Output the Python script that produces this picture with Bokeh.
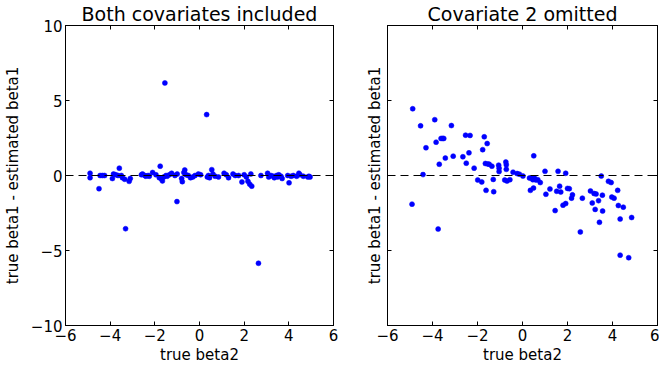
from bokeh.plotting import figure
from bokeh.layouts import row
from bokeh.models import LinearAxis, FixedTicker, Span
from bokeh.embed import file_html
from bokeh.resources import INLINE

# ---- data ----
left_x = [-4.9, -4.9, -4.5, -4.45, -4.35, -4.25, -3.9, -3.85, -3.75, -3.65, -3.59, -3.5, -3.45, -3.35,
          -3.31, -3.15, -3.1, -2.6, -2.55, -2.45, -2.4, -2.3, -2.25, -2.1, -1.95, -1.8, -1.76, -1.7,
          -1.66, -1.6, -1.55, -1.5, -1.45, -1.35, -1.25, -1.1, -1.01, -1.0, -0.8, -0.77, -0.7, -0.66,
          -0.6, -0.5, -0.4, -0.3, -0.2, -0.05, 0.05, 0.32, 0.35, 0.4, 0.45, 0.55, 0.6, 0.7, 0.85,
          1.1, 1.2, 1.3, 1.5, 1.6, 1.75, 1.9, 2.0, 2.1, 2.17, 2.25, 2.34, 2.3, 2.64, 2.75, 3.05,
          3.1, 3.2, 3.3, 3.35, 3.45, 3.5, 3.55, 3.65, 3.7, 3.95, 4.01, 4.1, 4.2, 4.35, 4.45, 4.5,
          4.65, 4.85, 4.9, 4.95]
left_y = [0.15, -0.15, -0.88, 0.0, 0.0, 0.0, -0.2, 0.1, 0.05, 0.0, 0.49, 0.0, -0.15, -0.25,
          -3.55, -0.39, -0.2, 0.05, 0.1, 0.0, -0.05, 0.0, -0.05, 0.2, 0.05, -0.15, 0.62, -0.25,
          -0.37, -0.1, 6.17, 0.0, -0.05, 0.05, 0.15, 0.0, -1.74, 0.1, -0.2, -0.41, 0.2, 0.37,
          0.05, 0.0, -0.15, -0.1, 0.0, 0.1, 0.05, 4.06, -0.1, 0.0, -0.15, 0.39, 0.1, -0.05, -0.1,
          0.15, 0.05, -0.15, 0.1, 0.0, 0.0, -0.43, 0.05, -0.1, -0.39, -0.58, -0.71, 0.1, -5.85, 0.0, 0.15,
          -0.1, 0.0, -0.05, -0.15, 0.0, -0.1, 0.05, -0.05, -0.2, 0.0, -0.49, -0.05, 0.0, -0.05, 0.15, 0.05,
          -0.05, -0.1, -0.05, -0.1]

right_x = [-4.88, -4.53, -3.9, -3.16, -4.29, -3.84, -3.62, -3.55, -3.5, -3.7, -3.43, -3.08, -4.42,
           -4.91, -3.75, -2.53, -2.33, -2.65, -2.5, -2.38, -2.15, -1.77, -1.7, -1.57, -1.65, -1.54,
           -1.48, -1.36, -1.06, -1.04, -1.04, -0.74, -0.72, -0.72, -1.99, -1.81, -1.3, -1.62, -1.28,
           -0.79, -0.69, -0.56, -0.42, -0.24, -0.14, 0.02, 0.31, 0.39, 0.46, 0.53, 0.6, 0.68, 0.79,
           0.35, 0.49, 0.5, 1.0, 1.04, 1.22, 1.45, 1.52, 1.7, 1.58, 1.65, 1.92, 1.8, 1.92, 2.0, 2.08,
           2.18, 2.22, 2.57, 2.66, 3.02, 3.18, 3.27, 3.1, 3.23, 3.38, 3.42, 3.5, 3.55, 3.56, 3.82,
           3.94, 3.97, 4.07, 4.23, 4.26, 4.34, 4.48, 4.85, 4.34, 4.72]
right_y = [4.45, 3.31, 3.72, 3.33, 1.85, 2.22, 2.47, 2.47, 2.47, 0.75, 1.16, 1.29, 0.06,
           -1.91, -3.57, 2.69, 2.67, 1.25, 0.82, 1.51, 0.49, 1.72, 2.58, 2.13, 0.8, 0.77,
           0.75, 0.62, 0.69, 0.49, 0.26, 0.9, 0.71, 0.41, -0.3, -0.43, -0.26, -0.99, -1.08,
           -0.3, -0.37, -0.28, 0.22, 0.13, 0.09, -0.04, -0.17, -0.17, -0.28, -0.17, -0.3, -0.28, -0.47,
           -0.99, -0.84, 1.31, 0.28, -1.25, -0.9, -2.34, -1.05, -1.1, 0.28, -0.71, 0.15, -1.98, -1.87, -0.86, -0.88,
           -1.51, -1.29, -3.76, -1.51, -1.03, -1.2, -1.23, -1.83, -2.26, -1.68, -3.12, -0.04, -1.31, -2.37, -0.39,
           -0.47, -1.44, -1.51, -0.99, -2.0, -2.9, -2.11, -2.8, -5.31, -5.48]

x_ticks = [-6, -4, -2, 0, 2, 4, 6]
y_ticks = [-10, -5, 0, 5, 10]
titles = ["Both covariates included", "Covariate 2 omitted"]
x_label = "true beta2"
y_label = "true beta1 - estimated beta1"

FONT = "DejaVu Sans"


def lab(v):
    return ("\u2212" + str(-v)) if v < 0 else str(v)


def style_axis(ax, ticks, show_labels):
    ax.ticker = FixedTicker(ticks=ticks)
    ax.major_tick_in = 4
    ax.major_tick_out = 0
    ax.minor_tick_line_color = None
    ax.axis_line_color = "black"
    ax.major_tick_line_color = "black"
    ax.major_label_text_font = FONT
    ax.axis_label_text_font = FONT
    ax.axis_label_text_font_style = "normal"
    ax.axis_label_text_font_size = "15px"
    ax.axis_label_text_color = "black"
    if show_labels:
        ax.major_label_text_color = "black"
        ax.major_label_text_font_size = "15px"
        ax.major_label_overrides = {t: lab(t) for t in ticks}
        ax.major_label_standoff = 3
    else:
        ax.major_label_text_color = None
        ax.major_label_text_font_size = "1px"
        ax.major_label_standoff = 0


def make(xs, ys, title, show_ylabels, bl, br, fw):
    p = figure(output_backend="svg", toolbar_location=None,
               frame_width=fw, frame_height=300,
               x_range=(-6, 6), y_range=(-10, 10),
               min_border_left=bl, min_border_right=br,
               min_border_top=23, min_border_bottom=39,
               title=title)
    p.title.text_font = FONT
    p.title.text_font_size = "19px"
    p.title.text_font_style = "normal"
    p.title.align = "center"
    p.title.text_color = "black"
    p.title.standoff = 1
    p.grid.visible = False
    p.outline_line_color = "black"
    p.outline_line_width = 1
    p.background_fill_color = "white"
    p.border_fill_color = "white"

    style_axis(p.xaxis[0], x_ticks, True)
    style_axis(p.yaxis[0], y_ticks, show_ylabels)
    p.xaxis[0].axis_label = x_label
    p.xaxis[0].axis_label_standoff = 2
    p.yaxis[0].axis_label = y_label
    p.yaxis[0].axis_label_standoff = 6 if show_ylabels else 4

    top = LinearAxis()
    style_axis(top, x_ticks, False)
    p.add_layout(top, "above")
    right = LinearAxis()
    style_axis(right, y_ticks, False)
    p.add_layout(right, "right")

    p.add_layout(Span(location=0, dimension="width", line_color="black",
                      line_width=1, line_dash="8 5"))
    p.scatter(xs, ys, size=5, fill_color="#0000ff", line_color="#0000ff", line_width=0.5)
    return p


p1 = make(left_x, left_y, titles[0], True, 54, 10, 268)
p2 = make(right_x, right_y, titles[1], False, 44, 2, 270)

layout = row(p1, p2)
open("out.html", "w").write(file_html(layout, INLINE))
